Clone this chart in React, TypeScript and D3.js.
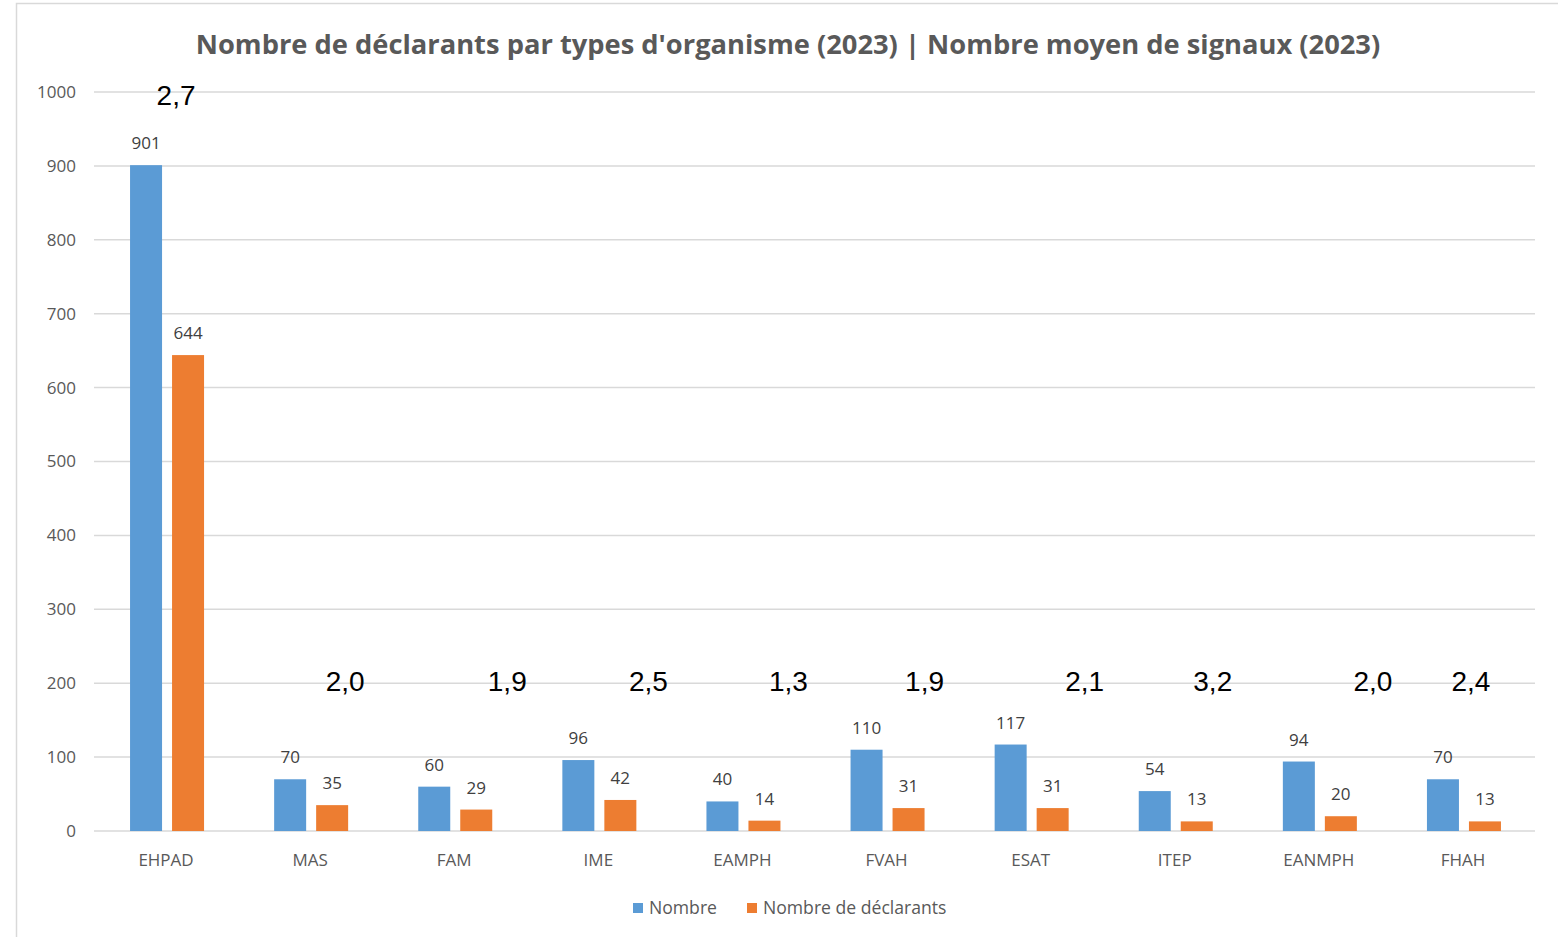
import React from 'react';
import * as d3 from 'd3';

const categories = ['EHPAD', 'MAS', 'FAM', 'IME', 'EAMPH', 'FVAH', 'ESAT', 'ITEP', 'EANMPH', 'FHAH'];
const nombre = [901, 70, 60, 96, 40, 110, 117, 54, 94, 70];
const declarants = [644, 35, 29, 42, 14, 31, 31, 13, 20, 13];
const moyenSignaux = ['2,7', '2,0', '1,9', '2,5', '1,3', '1,9', '2,1', '3,2', '2,0', '2,4'];
const yTicks = [0, 100, 200, 300, 400, 500, 600, 700, 800, 900, 1000];

// where the free-floating "moyen" text boxes sit, relative to each category centre
const meanLabelDx = [10, 35, 53, 50, 46, 38, 54, 38, 54, 8];
const meanLabelLevel = [1000, 200, 200, 200, 200, 200, 200, 200, 200, 200];

const W = 1558;
const H = 937;
const margin = { left: 94, right: 23, top: 92, bottom: 106 };
const BLUE = '#5B9BD5';
const ORANGE = '#ED7D31';
const FONT = "'Open Sans', 'Noto Sans', sans-serif";

const App = () => {
  const x = d3
    .scaleBand()
    .domain(categories)
    .range([margin.left, W - margin.right]);
  const y = d3
    .scaleLinear()
    .domain([0, 1000])
    .range([H - margin.bottom, margin.top]);
  const inner = d3.scaleBand().domain(['nombre', 'declarants']).range([-36, 38]).paddingInner(10 / 42);

  const series = [
    { key: 'nombre', values: nombre, color: BLUE },
    { key: 'declarants', values: declarants, color: ORANGE },
  ];

  return (
    <svg width={W} height={H} style={{ position: 'absolute', left: 0, top: 0 }}>
      <rect x={0} y={0} width={W} height={H} fill="#fff" />
      <rect x={16.5} y={3.5} width={W} height={H} fill="none" stroke="#d9d9d9" strokeWidth={1.5} />
      <text
        x={788}
        y={54}
        textAnchor="middle"
        fontFamily={FONT}
        fontWeight="bold"
        fontSize={27.3}
        fill="#595959"
      >
        Nombre de déclarants par types d'organisme (2023) | Nombre moyen de signaux (2023)
      </text>

      {yTicks.map(t => (
        <g key={t}>
          <line x1={margin.left} x2={W - margin.right} y1={y(t)} y2={y(t)} stroke="#d9d9d9" strokeWidth={1.5} />
          <text x={76} y={y(t)} dy="0.35em" textAnchor="end" fontFamily={FONT} fontSize={17} fill="#595959">
            {t}
          </text>
        </g>
      ))}

      {series.map(s =>
        categories.map((c, i) => {
          const cx = x(c)! + x.bandwidth() / 2 + inner(s.key)!;
          return (
            <g key={s.key + c}>
              <rect x={cx} y={y(s.values[i])} width={inner.bandwidth()} height={y(0) - y(s.values[i])} fill={s.color} />
              <text
                x={cx + inner.bandwidth() / 2}
                y={y(s.values[i]) - 16}
                textAnchor="middle"
                fontFamily={FONT}
                fontSize={17}
                fill="#404040"
              >
                {s.values[i]}
              </text>
            </g>
          );
        })
      )}

      {categories.map(c => (
        <text
          key={'cat' + c}
          x={x(c)! + x.bandwidth() / 2}
          y={y(0) + 35}
          textAnchor="middle"
          fontFamily={FONT}
          fontSize={17}
          fill="#595959"
        >
          {c}
        </text>
      ))}

      {categories.map((c, i) => (
        <text
          key={'m' + c}
          x={x(c)! + x.bandwidth() / 2 + meanLabelDx[i]}
          y={y(meanLabelLevel[i]) + (i === 0 ? 13 : 8)}
          textAnchor="middle"
          fontFamily="'Liberation Sans', Arial, sans-serif"
          fontSize={28}
          fill="#000"
        >
          {moyenSignaux[i]}
        </text>
      ))}

      <g fontFamily={FONT} fontSize={17.6} fill="#595959">
        <rect x={633} y={903} width={10} height={10} fill={BLUE} />
        <text x={649} y={914}>Nombre</text>
        <rect x={747} y={903} width={10} height={10} fill={ORANGE} />
        <text x={763} y={914}>Nombre de déclarants</text>
      </g>
    </svg>
  );
};

export default App;
